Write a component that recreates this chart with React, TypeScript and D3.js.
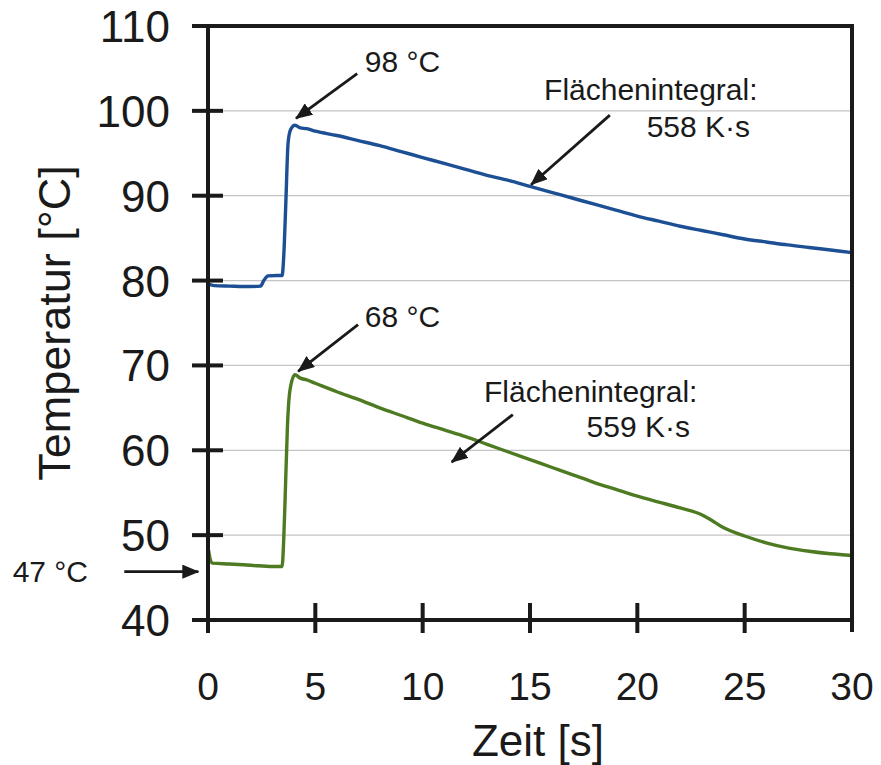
import * as d3 from "d3";

type Point = [number, number];

// time in s, temperature in °C
const upperSeries: Point[] = [
  [0, 79.6], [0.3, 79.4], [1, 79.35], [2, 79.3], [2.45, 79.35], [2.6, 80.0],
  [2.8, 80.55], [3.2, 80.6], [3.45, 80.6], [3.55, 84.0], [3.63, 89.5],
  [3.73, 96.2], [3.85, 97.8], [4.05, 98.3], [4.3, 98.0], [4.6, 97.9],
  [5, 97.6], [6, 97.1], [7, 96.5], [8, 95.9], [9, 95.2], [10, 94.5],
  [11, 93.8], [12, 93.1], [13, 92.4], [14, 91.8], [15, 91.1], [16, 90.4],
  [17, 89.7], [18, 89.0], [19, 88.3], [20, 87.6], [21, 87.0], [22, 86.4],
  [23, 85.9], [24, 85.4], [25, 84.9], [26, 84.55], [27, 84.2], [28, 83.9],
  [29, 83.6], [30, 83.3],
];

const lowerSeries: Point[] = [
  [0, 48.6], [0.1, 47.2], [0.2, 46.7], [1, 46.6], [2, 46.45], [3, 46.3],
  [3.45, 46.3], [3.52, 49.0], [3.59, 54.1], [3.7, 62.8], [3.82, 67.1],
  [4.05, 68.9], [4.3, 68.5], [4.6, 68.3], [5, 67.9], [6, 66.9], [7, 66.0],
  [8, 65.0], [9, 64.1], [10, 63.2], [11, 62.4], [12, 61.6], [13, 60.7],
  [14, 59.8], [15, 58.9], [16, 58.0], [17, 57.1], [18, 56.2], [19, 55.4],
  [20, 54.6], [21, 53.9], [22, 53.2], [23, 52.4], [23.3, 52.0], [24, 50.9],
  [25, 49.9], [26, 49.1], [27, 48.5], [28, 48.1], [29, 47.8], [30, 47.6],
];

const xTicks = [0, 5, 10, 15, 20, 25, 30];
const yTicks = [40, 50, 60, 70, 80, 90, 100, 110];

// annotation texts and arrows, in data units
const labels = [
  { text: "98 °C", x: 7.3, y: 104.6, anchor: "start" },
  { text: "68 °C", x: 7.3, y: 74.5, anchor: "start" },
  { text: "Flächenintegral:", x: 25.6, y: 101.3, anchor: "end" },
  { text: "558 K·s", x: 25.25, y: 96.9, anchor: "end" },
  { text: "Flächenintegral:", x: 22.8, y: 65.7, anchor: "end" },
  { text: "559 K·s", x: 22.45, y: 61.55, anchor: "end" },
  { text: "47 °C", x: -9.1, y: 44.5, anchor: "start" },
];

const arrows: [Point, Point][] = [
  [[6.95, 104.4], [4.1, 99.1]],
  [[6.99, 74.8], [4.2, 69.3]],
  [[18.72, 99.5], [15.05, 91.3]],
  [[14.2, 64.2], [11.35, 58.6]],
  [[-3.9, 45.7], [-0.45, 45.7]],
];

const width = 881;
const height = 765;
const margin = { top: 26, right: 29, bottom: 145, left: 208 };
const font = "'Liberation Sans', Arial, sans-serif";
const ink = "#1a1a1a";
const axisW = 4;

const x = d3
  .scaleLinear()
  .domain([0, 30])
  .range([margin.left, width - margin.right]);
const y = d3
  .scaleLinear()
  .domain([40, 110])
  .range([height - margin.bottom, margin.top]);

const line = d3
  .line<Point>()
  .x((d) => x(d[0]))
  .y((d) => y(d[1]))
  .curve(d3.curveMonotoneX);

export default function App() {
  const x0 = x(0);
  const x1 = x(30);
  const yBottom = y(40);
  const yTop = y(110);

  return (
    <svg
      width={width}
      height={height}
      style={{ position: "absolute", left: 0, top: 0, background: "#fff" }}
    >
      <defs>
        <marker
          id="head"
          markerUnits="userSpaceOnUse"
          markerWidth={18}
          markerHeight={14}
          refX={16}
          refY={7}
          orient="auto"
        >
          <path d="M0,0 L17,7 L0,14 Z" fill={ink} />
        </marker>
      </defs>

      {/* grid */}
      {yTicks
        .filter((t) => t > 40 && t < 110)
        .map((t) => (
          <line
            key={`g${t}`}
            x1={x0}
            x2={x1}
            y1={y(t)}
            y2={y(t)}
            stroke="#c4c4c4"
            strokeWidth={1.2}
          />
        ))}

      {/* tick labels */}
      {yTicks.map((t) => (
        <text
          key={`yl${t}`}
          x={x0 - 38}
          y={y(t) + 16}
          textAnchor="end"
          fontFamily={font}
          fontSize={44}
          fill={ink}
        >
          {t}
        </text>
      ))}
      {xTicks.map((t) => (
        <text
          key={`xl${t}`}
          x={x(t)}
          y={yBottom + 80}
          textAnchor="middle"
          fontFamily={font}
          fontSize={39}
          fill={ink}
        >
          {t}
        </text>
      ))}

      <text
        x={538}
        y={756}
        textAnchor="middle"
        fontFamily={font}
        fontSize={44}
        fill={ink}
      >
        Zeit [s]
      </text>
      <text
        transform={`translate(70,${y(75)}) rotate(-90)`}
        textAnchor="middle"
        fontFamily={font}
        fontSize={45}
        fill={ink}
      >
        Temperatur [°C]
      </text>

      {/* curves */}
      <path
        d={line(upperSeries) ?? ""}
        fill="none"
        stroke="#1d4f94"
        strokeWidth={3.4}
        strokeLinejoin="round"
      />
      <path
        d={line(lowerSeries) ?? ""}
        fill="none"
        stroke="#4e7b22"
        strokeWidth={3.4}
        strokeLinejoin="round"
      />

      {/* frame, axes and tick marks */}
      <g fill={ink}>
        <rect x={x0 - 16} y={yTop - axisW / 2} width={x1 - x0 + 16 + axisW / 2} height={axisW} />
        <rect x={x0 - 14} y={yBottom - axisW / 2} width={x1 - x0 + 14} height={axisW} />
        <rect x={x1 - axisW / 2} y={yTop - axisW / 2} width={axisW} height={yBottom - yTop + 14} />
        <rect x={x0 - axisW / 2} y={yTop} width={axisW} height={yBottom - yTop + 13} />
        {yTicks.map((t) => (
          <rect
            key={`yt${t}`}
            x={x0 - 16}
            y={y(t) - axisW / 2}
            width={31}
            height={axisW}
          />
        ))}
        {xTicks
          .filter((t) => t > 0 && t < 30)
          .map((t) => (
            <rect
              key={`xt${t}`}
              x={x(t) - axisW / 2}
              y={yBottom - 17}
              width={axisW}
              height={30}
            />
          ))}
      </g>

      {/* annotations */}
      {arrows.map(([a, b], i) => (
        <line
          key={`a${i}`}
          x1={x(a[0])}
          y1={y(a[1])}
          x2={x(b[0])}
          y2={y(b[1])}
          stroke={ink}
          strokeWidth={2.8}
          markerEnd="url(#head)"
        />
      ))}
      {labels.map((d, i) => (
        <text
          key={`l${i}`}
          x={x(d.x)}
          y={y(d.y)}
          textAnchor={d.anchor}
          fontFamily={font}
          fontSize={30}
          fill={ink}
        >
          {d.text}
        </text>
      ))}
    </svg>
  );
}
